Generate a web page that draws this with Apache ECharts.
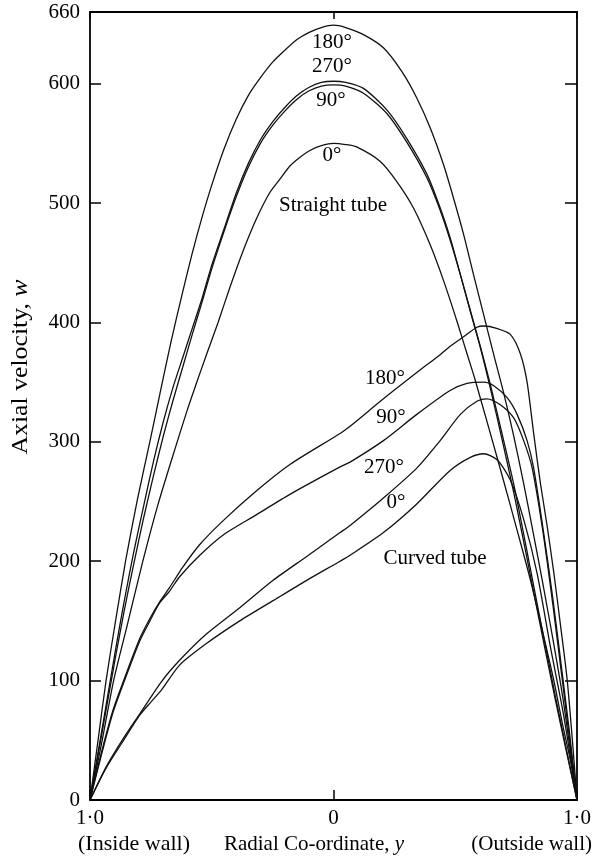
<!DOCTYPE html>
<html>
<head>
<meta charset="utf-8">
<script src="https://cdn.jsdelivr.net/npm/echarts@6/dist/echarts.min.js"></script>
<style>
html,body{margin:0;padding:0;background:#fff;}
#chart{width:594px;height:856px;}
</style>
</head>
<body>
<div id="chart"></div>
<script>
// Radial co-ordinate y (-1 inside wall, +1 outside wall) vs axial velocity w
var straight180 = [[-1,0],[-0.967,50],[-0.934,100],[-0.895,150],[-0.854,200],[-0.805,252],[-0.751,303],[-0.707,346],[-0.666,385],[-0.62,425],[-0.58,458],[-0.54,488],[-0.50,515],[-0.45,545],[-0.40,570],[-0.35,590],[-0.30,605],[-0.25,618],[-0.20,628],[-0.15,637],[-0.10,643],[-0.05,647],[0,649],[0.05,647],[0.123,641],[0.205,630],[0.281,610],[0.342,588],[0.397,563],[0.452,532],[0.493,504],[0.534,474],[0.575,440],[0.616,407],[0.658,373],[0.70,340],[0.74,305],[0.78,266],[0.82,224],[0.86,181],[0.90,136],[0.94,88],[0.97,45],[1,0]];
var straight270 = [[-1,0],[-0.965,42],[-0.93,84],[-0.895,126],[-0.86,166],[-0.82,208],[-0.78,246],[-0.74,283],[-0.70,316],[-0.66,345],[-0.62,370],[-0.58,395],[-0.54,420],[-0.50,448],[-0.45,478],[-0.40,508],[-0.35,533],[-0.30,553],[-0.25,568],[-0.20,580],[-0.15,590],[-0.10,597],[-0.05,601],[0,602],[0.05,601],[0.123,596],[0.219,578],[0.301,554],[0.384,524],[0.438,496],[0.479,471],[0.521,440],[0.562,409],[0.603,379],[0.644,345],[0.70,295],[0.747,251],[0.829,167],[0.912,83],[1,0]];
var straight90 = [[-1,0],[-0.965,40],[-0.93,80],[-0.895,120],[-0.86,158],[-0.82,198],[-0.78,236],[-0.74,271],[-0.70,304],[-0.66,334],[-0.62,362],[-0.58,390],[-0.54,417],[-0.50,445],[-0.45,476],[-0.40,505],[-0.35,530],[-0.30,550],[-0.25,565],[-0.20,577],[-0.15,587],[-0.10,594],[-0.05,598],[0,599],[0.05,598],[0.123,592],[0.219,575],[0.301,551],[0.384,521],[0.438,494],[0.479,469],[0.521,440],[0.562,410],[0.603,380],[0.644,348],[0.70,300],[0.747,258],[0.829,172],[0.912,86],[1,0]];
var straight0 = [[-1,0],[-0.95,50],[-0.903,100],[-0.85,144],[-0.783,200],[-0.72,248],[-0.648,296],[-0.60,327],[-0.563,349],[-0.52,374],[-0.474,400],[-0.426,429],[-0.371,460],[-0.316,487],[-0.261,509],[-0.22,520],[-0.179,531],[-0.14,538],[-0.097,544],[-0.05,548],[0,550],[0.05,549],[0.095,547],[0.191,535],[0.26,518],[0.328,496],[0.397,465],[0.452,435],[0.507,401],[0.548,374],[0.58,353],[0.64,310],[0.699,267],[0.75,229],[0.809,184],[0.86,140],[0.905,100],[0.94,64],[0.973,33],[1,0]];
var curved180 = [[-1,0],[-0.954,39],[-0.906,75],[-0.851,106],[-0.796,135],[-0.754,152],[-0.714,166],[-0.673,178],[-0.619,195],[-0.549,214],[-0.453,234],[-0.316,259],[-0.179,281],[0.027,307],[0.068,313],[0.205,336],[0.342,358],[0.438,373],[0.479,380],[0.534,388],[0.589,396],[0.617,397],[0.67,395],[0.726,390],[0.767,374],[0.795,350],[0.822,307],[0.85,265],[0.877,230],[0.905,190],[0.93,150],[0.96,100],[0.985,40],[1,0]];
var curved90 = [[-1,0],[-0.954,37],[-0.906,73],[-0.851,104],[-0.796,133],[-0.754,150],[-0.714,165],[-0.673,175],[-0.632,187],[-0.549,205],[-0.453,222],[-0.316,239],[-0.179,256],[0.027,279],[0.068,283],[0.205,301],[0.342,323],[0.479,343],[0.548,349],[0.617,350],[0.658,347],[0.713,337],[0.754,323],[0.795,301],[0.822,278],[0.86,228],[0.90,170],[0.94,105],[0.97,55],[1,0]];
var curved270 = [[-1,0],[-0.933,28],[-0.865,51],[-0.796,72],[-0.707,99],[-0.632,117],[-0.522,139],[-0.385,161],[-0.248,184],[-0.110,204],[0.027,224],[0.068,230],[0.205,253],[0.342,278],[0.438,301],[0.521,323],[0.589,334],[0.630,336],[0.685,331],[0.740,320],[0.781,301],[0.816,278],[0.86,225],[0.90,165],[0.94,100],[0.97,50],[1,0]];
var curved0 = [[-1,0],[-0.933,27],[-0.865,49],[-0.796,71],[-0.75,82],[-0.707,92],[-0.632,113],[-0.522,131],[-0.385,150],[-0.248,167],[-0.110,184],[0.027,200],[0.068,205],[0.205,224],[0.342,248],[0.479,276],[0.562,287],[0.617,290],[0.672,285],[0.726,268],[0.781,235],[0.836,190],[0.891,128],[0.946,70],[1,0]];

var xTickLabels = {'-1':'1\u00b70','0':'0','1':'1\u00b70'};
var yTicks = {min:0, max:660, interval:100};

var FONT = 'Liberation Serif';
var chart = echarts.init(document.getElementById('chart'), null, {renderer:'canvas'});

function lineSeries(name, data){
  return {name:name, type:'line', data:data, showSymbol:false, symbol:'none',
    smooth:0.25,
    lineStyle:{color:'#111', width:1.3}, z:3, silent:true};
}
var axisLine = {show:true, onZero:false, lineStyle:{color:'#000', width:1.8}};
var txt = {fontFamily:FONT, fontSize:21, color:'#000'};

function lbl(text, x, y){
  return {type:'text', x:x, y:y, style:{text:text, font:'21px "Liberation Serif"', fill:'#000', textAlign:'center', textVerticalAlign:'middle'}};
}

chart.setOption({
  animation:false,
  backgroundColor:'#fff',
  grid:{left:90, right:17, top:12, bottom:56},
  xAxis:[
    {type:'value', position:'bottom', min:-1, max:1, interval:1,
     axisLine:axisLine, splitLine:{show:false},
     axisTick:{show:true, inside:true, length:10, lineStyle:{color:'#000', width:1.5}},
     axisLabel:Object.assign({margin:8, formatter:function(v){return xTickLabels[String(v)];}}, txt)},
    {type:'value', position:'top', min:-1, max:1, interval:1,
     axisLine:axisLine, splitLine:{show:false},
     axisTick:{show:true, inside:true, length:7, lineStyle:{color:'#000', width:1.5}},
     axisLabel:{show:false}}
  ],
  yAxis:[
    {type:'value', position:'left', min:yTicks.min, max:yTicks.max, interval:yTicks.interval,
     axisLine:axisLine, splitLine:{show:false},
     axisTick:{show:true, inside:true, length:11, lineStyle:{color:'#000', width:1.5}},
     axisLabel:Object.assign({margin:10}, txt)},
    {type:'value', position:'right', min:yTicks.min, max:yTicks.max, interval:yTicks.interval,
     axisLine:axisLine, splitLine:{show:false},
     axisTick:{show:true, inside:true, length:12, lineStyle:{color:'#000', width:1.5}},
     axisLabel:{show:false}}
  ],
  series:[
    lineSeries('Straight 180°', straight180),
    lineSeries('Straight 270°', straight270),
    lineSeries('Straight 90°', straight90),
    lineSeries('Straight 0°', straight0),
    lineSeries('Curved 180°', curved180),
    lineSeries('Curved 90°', curved90),
    lineSeries('Curved 270°', curved270),
    lineSeries('Curved 0°', curved0)
  ],
  graphic:[
    {type:'text', x:21, y:367, rotation:Math.PI/2, scaleX:1.12,
     style:{text:'{n|Axial velocity, }{i|w}', textAlign:'center', textVerticalAlign:'middle',
       rich:{n:{fontFamily:FONT, fontSize:23, fill:'#000'}, i:{fontFamily:FONT, fontSize:23, fontStyle:'italic', fill:'#000'}}}},
    {type:'text', x:78, y:844, scaleX:1.05, style:{text:'(Inside wall)', font:'21px "Liberation Serif"', fill:'#000', textAlign:'left', textVerticalAlign:'middle'}},
    {type:'text', x:314, y:844,
     style:{text:'{n|Radial Co-ordinate, }{i|y}', textAlign:'center', textVerticalAlign:'middle',
       rich:{n:{fontFamily:FONT, fontSize:21, fill:'#000'}, i:{fontFamily:FONT, fontSize:21, fontStyle:'italic', fill:'#000'}}}},
    {type:'text', x:592, y:844, style:{text:'(Outside wall)', font:'21px "Liberation Serif"', fill:'#000', textAlign:'right', textVerticalAlign:'middle'}},
    lbl('180°', 332, 42),
    lbl('270°', 332, 66),
    lbl('90°', 331, 100),
    lbl('0°', 332, 155),
    lbl('Straight tube', 333, 205),
    lbl('180°', 385, 378),
    lbl('90°', 391, 417),
    lbl('270°', 384, 467),
    lbl('0°', 396, 502),
    lbl('Curved tube', 435, 558)
  ]
});
</script>
</body>
</html>
